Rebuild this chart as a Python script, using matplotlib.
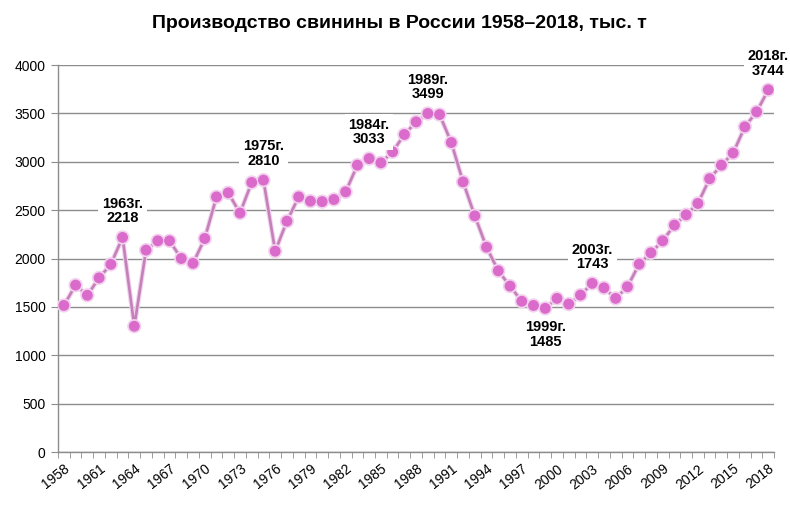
import numpy as np
import matplotlib.pyplot as plt
from matplotlib.ticker import MultipleLocator, FixedLocator
import matplotlib.patheffects as pe

# годы и производство свинины, тыс. т
years = list(range(1958, 2019))
pork = [1515, 1725, 1620, 1800, 1940, 2218, 1300, 2087, 2183, 2183,
        2000, 1950, 2207, 2637, 2679, 2470, 2786, 2810, 2076, 2386,
        2637, 2593, 2588, 2610, 2689, 2965, 3033, 2989, 3103, 3282,
        3412, 3499, 3488, 3199, 2792, 2441, 2117, 1873, 1715, 1558,
        1515, 1485, 1588, 1529, 1622, 1743, 1697, 1588, 1708, 1942,
        2059, 2183, 2345, 2452, 2569, 2825, 2965, 3090, 3361, 3516,
        3744]

# подписи выделенных точек: год, смещение (вверх/вниз)
note_years = [1963, 1975, 1984, 1989, 1999, 2003, 2018]
note_dir = [1, 1, 1, 1, -1, 1, 1]

line_col = "#C480B8"
mark_col = "#DA6BCB"
grid_col = "#8C8C8C"

plt.rcParams["font.family"] = ["Liberation Sans", "DejaVu Sans"]

fig = plt.figure(figsize=(7.9, 5.14), dpi=100)
ax = fig.add_axes([0.0734, 0.1206, 0.9066, 0.7529])

ax.plot(years, pork, color=line_col, lw=1.9, marker="o", ms=6.8,
        mfc=mark_col, mec=mark_col, zorder=3,
        path_effects=[pe.Stroke(linewidth=3.5, foreground="#F2D2EE"), pe.Normal()])

ax.set_xlim(1957.5, 2018.5)
ax.set_ylim(0, 4000)
ax.yaxis.set_major_locator(MultipleLocator(500))
ax.set_xticks(years[::3])
ax.set_xticklabels([str(y) for y in years[::3]], rotation=38, ha="right",
                   rotation_mode="anchor", fontsize=10)
ax.xaxis.set_minor_locator(FixedLocator(np.arange(1957.5, 2019, 1)))
ax.tick_params(axis="x", which="major", length=0, pad=7)
ax.tick_params(axis="x", which="minor", length=4, color=grid_col, direction="out")
ax.tick_params(axis="y", length=5, color=grid_col, labelsize=10, pad=4)

ax.grid(axis="y", color=grid_col, lw=1.0, zorder=0)
ax.set_axisbelow(True)
for s in ["top", "right"]:
    ax.spines[s].set_visible(False)
for s in ["left", "bottom"]:
    ax.spines[s].set_color(grid_col)
    ax.spines[s].set_linewidth(1.0)

for yr, d in zip(note_years, note_dir):
    v = pork[years.index(yr)]
    ax.annotate(f"{yr}г.\n{v}", xy=(yr, v), xytext=(0, 19 * d),
                textcoords="offset points", ha="center", va="center",
                fontsize=10.5, fontweight="bold", linespacing=1.05,
                bbox=dict(boxstyle="square,pad=0.25", fc="white", ec="none"),
                zorder=4)

fig.text(0.505, 0.955, "Производство свинины в России 1958–2018, тыс. т",
         ha="center", va="center", fontsize=14, fontweight="bold")

fig.savefig("out.png", dpi=100)
